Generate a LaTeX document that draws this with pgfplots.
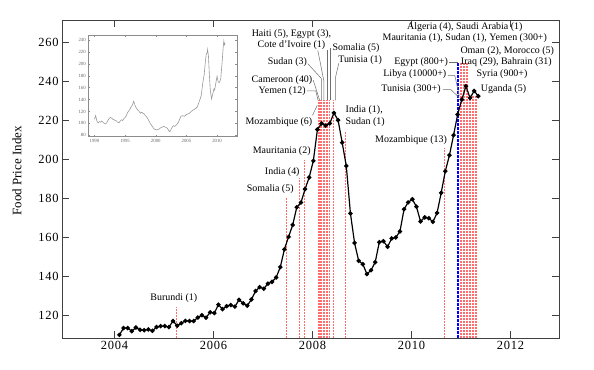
\documentclass[border=0pt]{standalone}
\usepackage{fontspec}
\setmainfont{Liberation Serif}
\newfontfamily\tickfont[LetterSpace=6]{Liberation Serif}
\usepackage{pgfplots}
\pgfplotsset{compat=1.18}
\usepackage{pgfplotstable}

\pgfplotstableread{
x y
2004.100 110.0
2004.183 113.5
2004.267 113.5
2004.350 111.9
2004.433 113.8
2004.517 112.6
2004.600 112.4
2004.683 112.8
2004.767 112.1
2004.850 114.0
2004.933 114.5
2005.017 114.5
2005.100 114.0
2005.183 117.1
2005.267 114.7
2005.350 116.0
2005.433 117.2
2005.517 117.1
2005.600 117.1
2005.683 118.9
2005.767 120.1
2005.850 118.8
2005.933 121.6
2006.017 121.2
2006.100 125.5
2006.183 123.2
2006.267 124.7
2006.350 125.3
2006.433 124.5
2006.517 128.0
2006.600 126.2
2006.683 125.0
2006.767 128.2
2006.850 132.5
2006.933 134.5
2007.017 133.7
2007.100 136.3
2007.183 137.2
2007.267 139.5
2007.350 144.8
2007.433 153.9
2007.517 160.3
2007.600 166.4
2007.683 175.5
2007.767 177.9
2007.850 184.8
2007.933 190.8
2008.017 199.3
2008.100 215.4
2008.183 218.5
2008.267 217.4
2008.350 218.5
2008.433 223.9
2008.517 220.2
2008.600 208.7
2008.683 196.7
2008.767 172.3
2008.850 157.2
2008.933 148.0
2009.017 146.3
2009.100 141.2
2009.183 143.2
2009.267 147.3
2009.350 157.6
2009.433 158.1
2009.517 155.2
2009.600 159.5
2009.683 160.0
2009.767 163.1
2009.850 174.5
2009.933 178.0
2010.017 179.6
2010.100 175.8
2010.183 168.2
2010.267 170.3
2010.350 169.9
2010.433 168.0
2010.517 172.6
2010.600 182.9
2010.683 194.0
2010.767 202.2
2010.850 212.5
2010.933 223.1
2011.017 230.8
2011.100 237.6
2011.183 231.6
2011.267 235.2
2011.350 232.5
}\fpidata

\pgfplotstableread{
x y
1990.0 107
1990.2 113
1990.4 104
1990.6 101
1990.8 103
1991.0 102
1991.2 104
1991.4 102
1991.6 100
1991.8 99
1992.0 101
1992.2 105
1992.4 108
1992.6 110
1992.8 109
1993.0 107
1993.2 106
1993.4 105
1993.6 104
1993.8 102
1994.0 101
1994.2 104
1994.4 106
1994.6 105
1994.8 108
1995.0 110
1995.2 113
1995.4 118
1995.6 121
1995.8 124
1996.0 128
1996.2 131
1996.4 137
1996.5 134
1996.7 128
1996.9 125
1997.1 122
1997.3 120
1997.5 117
1997.7 119
1997.9 117
1998.1 116
1998.3 113
1998.5 111
1998.7 108
1998.9 104
1999.1 100
1999.3 97
1999.5 94
1999.7 91
1999.9 90
2000.1 89
2000.3 90
2000.5 90
2000.7 92
2000.9 93
2001.1 94
2001.3 95
2001.5 94
2001.7 93
2001.9 92
2002.1 88
2002.3 86
2002.5 90
2002.7 94
2002.9 96
2003.1 95
2003.3 97
2003.5 99
2003.7 102
2003.9 107
2004.1 112
2004.4 113
2004.7 112
2005.0 115
2005.3 116
2005.6 118
2005.9 121
2006.2 123
2006.5 125
2006.8 128
2007.1 137
2007.4 146
2007.7 170
2007.9 182
2008.1 205
2008.25 217
2008.4 219
2008.45 224
2008.6 212
2008.75 180
2008.9 155
2009.1 141
2009.3 150
2009.5 158
2009.6 156
2009.8 168
2010.0 179
2010.2 169
2010.4 169
2010.6 175
2010.8 200
2011.0 228
2011.1 238
2011.2 232
2011.3 235
}\insetdata

\definecolor{evred}{RGB}{255,110,110}
\definecolor{leadgray}{RGB}{110,110,110}

\begin{document}
\begin{tikzpicture}
\useasboundingbox (0,0) rectangle (594bp,370bp);
\begin{axis}[
  at={(62bp,32bp)}, anchor=south west,
  scale only axis, width=497bp, height=318bp,
  xmin=2002.94, xmax=2012.98, ymin=108.4, ymax=271.6,
  xtick={2004,2006,2008,2010,2012},
  ytick={120,140,160,180,200,220,240,260},
  tick align=inside, major tick length=7bp,
  axis line style={line width=0.8pt, black!75},
  tick style={line width=0.8pt, black!75},
  /pgf/number format/1000 sep={},
  /pgf/number format/assume math mode=true,
  tick label style={font=\tickfont\fontsize{12.5}{14}\selectfont},
  ylabel={Food Price Index},
  ylabel style={at={(axis description cs:-0.0905,0.5255)}, anchor=center, font=\fontsize{13}{15}\selectfont},
  ev/.style={draw=evred, line width=1.2bp, dash pattern=on 2bp off 1bp, no marks, forget plot},
  ld/.style={draw=leadgray, line width=0.5pt, no marks, forget plot},
]
% event lines
\addplot[ev] coordinates {(2005.26,108.4) (2005.26,124.4)};
\addplot[ev] coordinates {(2007.47,108.4) (2007.47,180.2)};
\addplot[ev] coordinates {(2007.74,108.4) (2007.74,190.4)};
\addplot[ev] coordinates {(2007.84,108.4) (2007.84,199.6)};
\addplot[ev] coordinates {(2008.12,108.4) (2008.12,230.4)};
\addplot[ev] coordinates {(2008.15,108.4) (2008.15,230.4)};
\addplot[ev] coordinates {(2008.19,108.4) (2008.19,230.4)};
\addplot[ev] coordinates {(2008.22,108.4) (2008.22,230.4)};
\addplot[ev] coordinates {(2008.25,108.4) (2008.25,230.4)};
\addplot[ev] coordinates {(2008.28,108.4) (2008.28,230.4)};
\addplot[ev] coordinates {(2008.30,108.4) (2008.30,230.4)};
\addplot[ev] coordinates {(2008.34,108.4) (2008.34,230.4)};
\addplot[ev] coordinates {(2008.43,108.4) (2008.43,230.4)};
\addplot[ev] coordinates {(2008.66,108.4) (2008.66,214.2)};
\addplot[ev] coordinates {(2010.66,108.4) (2010.66,205.8)};
\addplot[ev] coordinates {(2010.986,108.4) (2010.986,250.0)};
\addplot[ev] coordinates {(2011.016,108.4) (2011.016,250.0)};
\addplot[ev] coordinates {(2011.047,108.4) (2011.047,250.0)};
\addplot[ev] coordinates {(2011.077,108.4) (2011.077,250.0)};
\addplot[ev] coordinates {(2011.107,108.4) (2011.107,250.0)};
\addplot[ev] coordinates {(2011.137,108.4) (2011.137,250.0)};
\addplot[ev] coordinates {(2011.168,108.4) (2011.168,233.0)};
\addplot[ev] coordinates {(2011.198,108.4) (2011.198,233.0)};
\addplot[ev] coordinates {(2011.228,108.4) (2011.228,233.0)};
\addplot[ev] coordinates {(2011.259,108.4) (2011.259,233.0)};
\addplot[ev] coordinates {(2011.289,108.4) (2011.289,233.0)};
\addplot[ev] coordinates {(2011.319,108.4) (2011.319,233.0)};
\addplot[draw=blue, line width=1.4bp, dash pattern=on 3bp off 1bp, no marks] coordinates {(2010.94,108.4) (2010.94,250.0)};
% leaders
\addplot[ld] coordinates {(2007.885,235.18) (2008.067,235.18) (2008.113,230.38)};
\addplot[ld] coordinates {(2008.016,240.67) (2008.145,230.38)};
\addplot[ld] coordinates {(2008.0,222.7) (2008.097,227.8)};
\addplot[ld] coordinates {(2007.905,249.2) (2008.182,241.5) (2008.182,230.4)};
\addplot[ld] coordinates {(2008.107,256.05) (2008.228,240.6) (2008.228,230.4)};
\addplot[ld] coordinates {(2008.289,256.05) (2008.289,230.4)};
\addplot[ld] coordinates {(2008.349,257.1) (2008.349,230.4)};
\addplot[ld] coordinates {(2008.531,249.4) (2008.461,241.7) (2008.461,230.4)};
\addplot[ld] coordinates {(2010.764,250.05) (2010.94,250.05)};
\addplot[ld] coordinates {(2010.733,243.2) (2010.875,243.2) (2010.966,232.5)};
\addplot[ld] coordinates {(2010.632,235.9) (2010.794,235.9) (2010.966,231.7)};
% data
\addplot[black, line width=1.2pt, mark=*, mark size=1.6pt, mark options={fill=black, solid}] table[x=x,y=y] {\fpidata};
% labels
\begin{scope}[every node/.style={inner sep=0pt, font=\fontsize{10}{10.7}\selectfont}]
\node[anchor=center] at (axis cs:2005.20,129.0) {Burundi (1)};
\node[anchor=east] at (axis cs:2007.622,184.6) {Somalia (5)};
\node[anchor=east] at (axis cs:2007.743,193.5) {India (4)};
\node[anchor=east] at (axis cs:2007.966,204.3) {Mauritania (2)};
\node[anchor=east] at (axis cs:2008.0,219.3) {Mozambique (6)};
\node[anchor=east] at (axis cs:2007.865,235.2) {Yemen (12)};
\node[anchor=east] at (axis cs:2008.0,240.6) {Cameroon (40)};
\node[anchor=east] at (axis cs:2007.891,250.0) {Sudan (3)};
\node[anchor=center, align=center] at (axis cs:2007.576,261.5) {Haiti (5), Egypt (3),\\Cote d'Ivoire (1)};
\node[anchor=west] at (axis cs:2008.404,257.2) {Somalia (5)};
\node[anchor=west] at (axis cs:2008.517,250.9) {Tunisia (1)};
\node[anchor=west, align=left, font=\fontsize{10}{11.7}\selectfont] at (axis cs:2008.667,222.3) {India (1),\\Sudan (1)};
\node[anchor=east] at (axis cs:2010.719,209.9) {Mozambique (13)};
\node[anchor=center] at (axis cs:2011.077,268.0) {Algeria (4), Saudi Arabia (1)};
\node[anchor=center] at (axis cs:2011.077,262.1) {Mauritania (1), Sudan (1), Yemen (300+)};
\node[anchor=center] at (axis cs:2011.935,255.5) {Oman (2), Morocco (5)};
\node[anchor=east] at (axis cs:2010.739,250.1) {Egypt (800+)};
\node[anchor=west] at (axis cs:2010.996,250.1) {Iraq (29), Bahrain (31)};
\node[anchor=east] at (axis cs:2010.707,243.6) {Libya (10000+)};
\node[anchor=west] at (axis cs:2011.313,243.6) {Syria (900+)};
\node[anchor=east] at (axis cs:2010.592,236.0) {Tunisia (300+)};
\node[anchor=west] at (axis cs:2011.40,236.0) {Uganda (5)};
\end{scope}
\end{axis}
% inset
\begin{axis}[
  at={(88.3bp,233.3bp)}, anchor=south west,
  scale only axis, width=148.4bp, height=101.7bp,
  xmin=1989, xmax=2013.2, ymin=77.7, ymax=248.4,
  xtick={1990,1995,2000,2005,2010},
  ytick={80,100,120,140,160,180,200,220,240},
  tick align=inside, major tick length=2bp,
  axis background/.style={fill=white},
  axis line style={line width=0.4pt, black!45},
  tick style={line width=0.4pt, black!45},
  /pgf/number format/1000 sep={},
  /pgf/number format/assume math mode=true,
  tick label style={font=\fontsize{4.8}{5.5}\selectfont, text=black!60},
  xticklabel style={yshift=1pt},
  yticklabel style={xshift=1pt},
]
\addplot[black!40, line width=0.6pt, no marks] table[x=x,y=y] {\insetdata};
\end{axis}
\end{tikzpicture}
\end{document}
